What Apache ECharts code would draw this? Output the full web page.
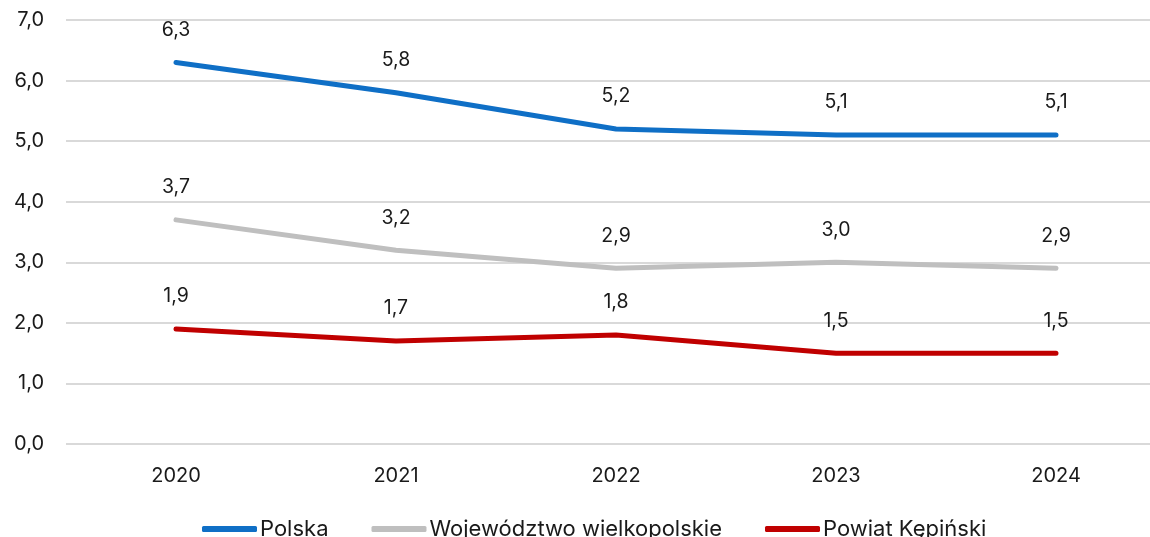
<!DOCTYPE html>
<html>
<head>
<meta charset="utf-8">
<script src="https://cdn.jsdelivr.net/npm/echarts@6/dist/echarts.min.js"></script>
<style>
  html, body { margin: 0; padding: 0; background: #fff; }
  #chart { width: 1150px; height: 537px; }
</style>
</head>
<body>
<div id="chart"></div>
<script>
// dane
const years = ['2020', '2021', '2022', '2023', '2024']
const polska = [6.3, 5.8, 5.2, 5.1, 5.1]
const wielkopolskie = [3.7, 3.2, 2.9, 3.0, 2.9]
const kepinski = [1.9, 1.7, 1.8, 1.5, 1.5]
const seriesNames = ['Polska', 'Województwo wielkopolskie', 'Powiat Kępiński']
const colors = ['#0f6fc6', '#bfbfbf', '#c00000']

const FONT = 'Inter, "Noto Sans", sans-serif'
const fmt = v => v.toFixed(1).replace('.', ',')

function makeSeries(name, data, color) {
  return {
    name,
    type: 'line',
    data,
    symbol: 'circle',
    symbolSize: 1,
    showSymbol: true,
    lineStyle: { width: 5, color, cap: 'round' },
    itemStyle: { color },
    label: {
      show: true,
      position: 'top',
      distance: 22,
      fontFamily: FONT,
      fontSize: 19.5,
      color: '#1a1a1a',
      formatter: p => fmt(p.value),
    },
  }
}

const chart = echarts.init(document.getElementById('chart'))
chart.setOption({
  animation: false,
  color: colors,
  grid: { left: 66, top: 20, width: 1100, height: 424, containLabel: false, outerBoundsMode: 'none' },
  legend: {
    bottom: -8,
    left: 197,
    padding: 5,
    itemWidth: 55,
    itemHeight: 6,
    itemGap: 43,
    icon: 'roundRect',
    textStyle: { fontFamily: FONT, fontSize: 22, color: '#1a1a1a', padding: [0, 0, 0, -2] },
    data: seriesNames,
  },
  xAxis: {
    type: 'category',
    data: years,
    boundaryGap: true,
    axisLine: { show: false },
    axisTick: { show: false },
    axisLabel: { fontFamily: FONT, fontSize: 20, color: '#1a1a1a', margin: 22 },
  },
  yAxis: {
    type: 'value',
    min: 0,
    max: 7,
    interval: 1,
    axisLabel: { fontFamily: FONT, fontSize: 20, color: '#1a1a1a', margin: 22, formatter: fmt },
    splitLine: { lineStyle: { color: '#d9d9d9', width: 2 } },
  },
  series: [
    makeSeries(seriesNames[0], polska, colors[0]),
    makeSeries(seriesNames[1], wielkopolskie, colors[1]),
    makeSeries(seriesNames[2], kepinski, colors[2]),
  ],
})
</script>
</body>
</html>
